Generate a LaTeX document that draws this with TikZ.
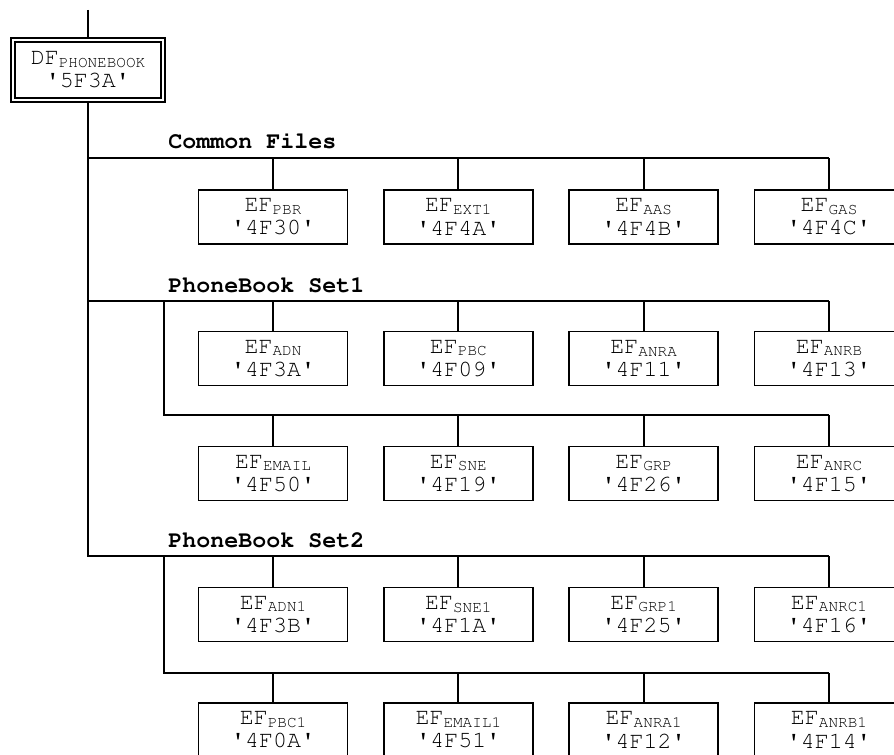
\documentclass[tikz,border=0pt]{standalone}
\usepackage[T1]{fontenc}
\usepackage{courier}

\newcommand\fsub[1]{\raisebox{-2pt}{\fontsize{12}{12}\selectfont #1}}
\newcommand\fq{\textquotesingle}

\tikzset{
	efile/.style={draw, line width=1.4pt, minimum width=111.75pt, minimum height=40.5pt, inner sep=0pt, align=center, font=\ttfamily\fontsize{17.5}{17.3}\selectfont},
	dfile/.style={efile, double, double distance=1.5pt, line width=1.5pt, minimum width=113pt, minimum height=45pt},
	bus/.style={line width=1.4pt},
	grouplabel/.style={anchor=base west, inner sep=0pt, font=\ttfamily\bfseries\fontsize{17.5}{17.5}\selectfont}
}

\begin{document}
\begin{tikzpicture}[x=0.75pt,y=-0.75pt]
	\useasboundingbox (0,0) rectangle (894,755);
	\clip (0,0) rectangle (894,755);
	\node[dfile] (df) at (88,70) {DF\fsub{PHONEBOOK}\\\fq5F3A\fq};
	\coordinate (top) at (88,10);
	\coordinate (common) at (88,158);
	\coordinate (set1) at (88,301);
	\coordinate (set1b) at (164,415);
	\coordinate (set2) at (88,556);
	\coordinate (set2b) at (164,673);
	\node[grouplabel] (lcommon) at (168,149) {Common Files};
	\node[grouplabel] (lset1) at (168,293) {PhoneBook Set1};
	\node[grouplabel] (lset2) at (168,548) {PhoneBook Set2};
	% common files
	\foreach \n/\s/\f [count=\i from 0] in {pbr/PBR/4F30, ext/EXT1/4F4A, aas/AAS/4F4B, gas/GAS/4F4C} {
		\node[efile] (\n) at (273+185.33*\i,217) {EF\fsub{\s}\\\fq\f\fq};
		\draw[bus] (\n.north) -- (\n.north |- common);
	}
	% phonebook set1
	\foreach \n/\s/\f [count=\i from 0] in {adn/ADN/4F3A, pbc/PBC/4F09, anra/ANRA/4F11, anrb/ANRB/4F13} {
		\node[efile] (\n) at (273+185.33*\i,358.5) {EF\fsub{\s}\\\fq\f\fq};
		\draw[bus] (\n.north) -- (\n.north |- set1);
	}
	\foreach \n/\s/\f [count=\i from 0] in {email/EMAIL/4F50, sne/SNE/4F19, grp/GRP/4F26, anrc/ANRC/4F15} {
		\node[efile] (\n) at (273+185.33*\i,473.5) {EF\fsub{\s}\\\fq\f\fq};
		\draw[bus] (\n.north) -- (\n.north |- set1b);
	}
	% phonebook set2
	\foreach \n/\s/\f [count=\i from 0] in {adnb/ADN1/4F3B, sneb/SNE1/4F1A, grpb/GRP1/4F25, anrcb/ANRC1/4F16} {
		\node[efile] (\n) at (273+185.33*\i,614.5) {EF\fsub{\s}\\\fq\f\fq};
		\draw[bus] (\n.north) -- (\n.north |- set2);
	}
	\foreach \n/\s/\f [count=\i from 0] in {pbcb/PBC1/4F0A, emailb/EMAIL1/4F51, anrab/ANRA1/4F12, anrbb/ANRB1/4F14} {
		\node[efile] (\n) at (273+185.33*\i,730) {EF\fsub{\s}\\\fq\f\fq};
		\draw[bus] (\n.north) -- (\n.north |- set2b);
	}
	\draw[bus] (top) -- (df.north);
	\draw[bus] (common) -- (common -| gas.north);
	\draw[bus] (set1) -- (set1 -| anrb.north);
	\draw[bus] (set1 -| set1b) -- (set1b) -- (set1b -| anrc.north);
	\draw[bus] (df.south) -- (set2) -- (set2 -| anrcb.north);
	\draw[bus] (set2 -| set2b) -- (set2b) -- (set2b -| anrbb.north);
\end{tikzpicture}
\end{document}
